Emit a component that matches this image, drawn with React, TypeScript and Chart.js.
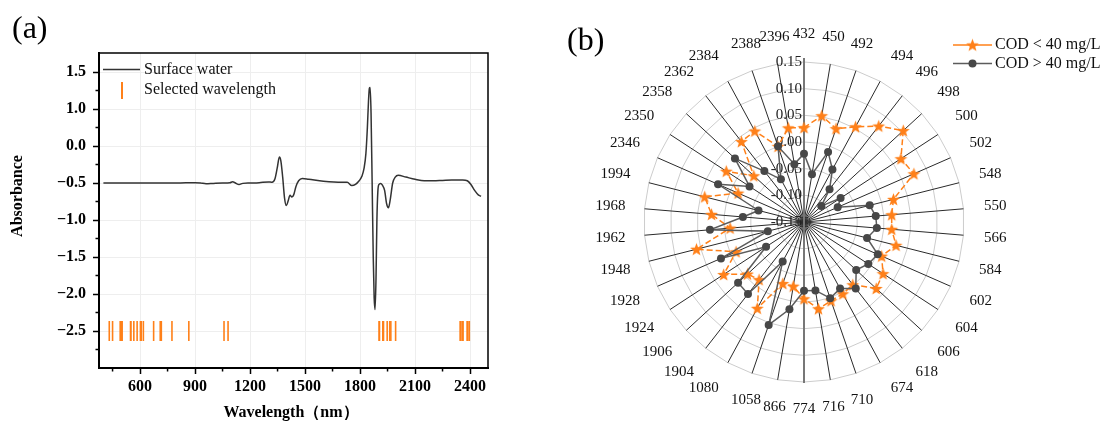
import React, { useEffect, useRef } from "react";
import { Chart, registerables } from "chart.js";

Chart.register(...registerables);

// ---------- Panel (a): spectrum ----------
const wavelengths = [
  400, 500, 600, 700, 800, 900, 930, 960, 1000, 1050,
  1090, 1105, 1120, 1140, 1160, 1200, 1250, 1300, 1320, 1335,
  1348, 1360, 1368, 1378, 1388, 1398, 1408, 1418, 1428, 1438,
  1450, 1465, 1485, 1520, 1600, 1700, 1730, 1755, 1775, 1795,
  1810, 1822, 1832, 1840, 1846, 1851, 1855, 1860, 1866, 1872,
  1877, 1882, 1887, 1892, 1897, 1903, 1912, 1922, 1934, 1945,
  1955, 1965, 1978, 1992, 2008, 2050, 2100, 2150, 2200, 2250,
  2300, 2360, 2385, 2405, 2425, 2445, 2460,
];
const absorbance = [
  -0.5, -0.5, -0.5, -0.5, -0.5, -0.495, -0.5, -0.51, -0.505, -0.5,
  -0.497, -0.482, -0.5, -0.52, -0.505, -0.5, -0.495, -0.485, -0.49, -0.45,
  -0.3, -0.15, -0.2, -0.42, -0.7, -0.805, -0.74, -0.665, -0.69, -0.66,
  -0.55, -0.47, -0.44, -0.45, -0.475, -0.49, -0.49, -0.535, -0.52, -0.47,
  -0.41, -0.3, -0.1, 0.25, 0.6, 0.78, 0.79, 0.45, -0.5, -1.5,
  -2.05, -2.21, -1.8, -1.0, -0.62, -0.52, -0.505, -0.53, -0.6, -0.78,
  -0.835, -0.72, -0.5, -0.42, -0.395, -0.42, -0.45, -0.47, -0.47, -0.465,
  -0.46, -0.46, -0.47, -0.52, -0.6, -0.66, -0.68,
];
const selectedWavelengths = [
  432, 450, 492, 494, 496, 498, 500, 502, 548, 550,
  566, 584, 602, 604, 606, 618, 674, 710, 716, 774,
  866, 1058, 1080, 1904, 1906, 1924, 1928, 1948, 1962, 1968,
  1994, 2346, 2350, 2358, 2362, 2384, 2388, 2396,
];
const markerLevel = -2.5;
const xTickValues = [600, 900, 1200, 1500, 1800, 2100, 2400];
const xMinorTicks = [450, 750, 1050, 1350, 1650, 1950, 2250];
const yTickPositions = [-2.5, -2.0, -1.5, -1.0, -0.5, 0, 0.5, 1.0];
const yTickLabels = ["−2.5", "−2.0", "−1.5", "−1.0", "−0.5", "0.0", "1.0", "1.5"];
const yMinorTicks = [-2.75, -2.25, -1.75, -1.25, -0.75, -0.25, 0.25, 0.75];

// ---------- Panel (b): radar ----------
const codBelow40 = [
  0.027, 0.052, 0.035, 0.053, 0.078, 0.103, 0.067, 0.075, 0.023, 0.015,
  0.015, 0.028, 0.009, 0.027, 0.034, -0.001, 0.003, 0.006, 0.015, -0.006,
  -0.028, -0.028, 0.034, -0.013, -0.006, 0.030, -0.011, 0.058, -0.011, 0.024,
  0.042, -0.015, 0.024, -0.022, 0.041, 0.044, 0.000, 0.029,
];
const codAbove40 = [
  -0.022, -0.059, -0.011, -0.038, -0.072, -0.106, -0.068, -0.081, -0.023, -0.015,
  -0.013, -0.028, 0.001, -0.006, -0.017, 0.008, -0.008, 0.001, -0.020, -0.021,
  0.016, 0.054, -0.066, 0.021, 0.018, -0.065, 0.020, -0.080, 0.027, -0.035,
  -0.062, 0.026, -0.028, 0.026, -0.029, -0.059, 0.000, -0.040,
];
const radialTicks = [-0.15, -0.1, -0.05, 0, 0.05, 0.1, 0.15];
const radialTickLabels = ["-0.15", "-0.10", "-0.05", "0.00", "0.05", "0.10", "0.15"];

const SERIF = "'Liberation Serif', 'Times New Roman', serif";
const ORANGE = "#ff8019";
const DARK = "#333333";
const GREY_LINE = "#5c5c5c";
const GREY_DOT = "#474747";

function makeStar(color: string) {
  const size = 15;
  const c = document.createElement("canvas");
  c.width = size;
  c.height = size;
  const ctx = c.getContext("2d")!;
  ctx.beginPath();
  for (let k = 0; k < 10; k++) {
    const r = k % 2 === 0 ? 6.8 : 2.8;
    const ang = -Math.PI / 2 + (k * Math.PI) / 5;
    const x = size / 2 + r * Math.cos(ang);
    const y = size / 2 + 0.6 + r * Math.sin(ang);
    if (k === 0) ctx.moveTo(x, y);
    else ctx.lineTo(x, y);
  }
  ctx.closePath();
  ctx.fillStyle = color;
  ctx.fill();
  return c;
}

const spectrumDecor = {
  id: "spectrumDecor",
  afterDraw(chart: any) {
    const { ctx, chartArea } = chart;
    const xs = chart.scales.x;
    const ys = chart.scales.y;
    ctx.save();
    // top & right frame
    ctx.strokeStyle = "#000";
    ctx.lineWidth = 1.5;
    ctx.beginPath();
    ctx.moveTo(chartArea.left, chartArea.top);
    ctx.lineTo(chartArea.right, chartArea.top);
    ctx.lineTo(chartArea.right, chartArea.bottom);
    ctx.stroke();
    // minor ticks
    ctx.lineWidth = 1.5;
    ctx.beginPath();
    xMinorTicks.forEach((v) => {
      const x = xs.getPixelForValue(v);
      ctx.moveTo(x, chartArea.bottom);
      ctx.lineTo(x, chartArea.bottom + 3.5);
    });
    yMinorTicks.forEach((v) => {
      const y = ys.getPixelForValue(v);
      ctx.moveTo(chartArea.left, y);
      ctx.lineTo(chartArea.left - 3.5, y);
    });
    ctx.stroke();

    // legend
    ctx.strokeStyle = DARK;
    ctx.lineWidth = 1.5;
    ctx.beginPath();
    ctx.moveTo(103, 69.5);
    ctx.lineTo(140, 69.5);
    ctx.stroke();
    ctx.strokeStyle = ORANGE;
    ctx.lineWidth = 2;
    ctx.beginPath();
    ctx.moveTo(122, 82);
    ctx.lineTo(122, 99);
    ctx.stroke();
    ctx.fillStyle = "#111";
    ctx.font = `16px ${SERIF}`;
    ctx.textAlign = "left";
    ctx.textBaseline = "middle";
    ctx.fillText("Surface water", 144, 70);
    ctx.fillText("Selected wavelength", 144, 90);

    // axis titles
    ctx.font = `bold 16px ${SERIF}`;
    ctx.textAlign = "center";
    ctx.fillStyle = "#000";
    ctx.fillText("Wavelength（nm）", 291, 413);
    ctx.save();
    ctx.translate(18, 196);
    ctx.rotate(-Math.PI / 2);
    ctx.fillText("Absorbance", 0, 0);
    ctx.restore();

    // panel tag
    ctx.font = `32px ${SERIF}`;
    ctx.textAlign = "left";
    ctx.fillText("(a)", 12, 30);
    ctx.restore();
  },
};

const radarDecor = {
  id: "radarDecor",
  beforeDatasetsDraw(chart: any) {
    const { ctx } = chart;
    const s = chart.scales.r;
    ctx.save();
    ctx.strokeStyle = "#777";
    ctx.lineWidth = 2;
    ctx.beginPath();
    ctx.moveTo(s.xCenter, s.yCenter - s.drawingArea - 4);
    ctx.lineTo(s.xCenter, s.yCenter + s.drawingArea + 1);
    ctx.stroke();
    ctx.font = `15px ${SERIF}`;
    ctx.fillStyle = "#222";
    ctx.textAlign = "right";
    ctx.textBaseline = "middle";
    radialTicks.forEach((v, i) => {
      const r = s.getDistanceFromCenterForValue(v);
      ctx.fillText(radialTickLabels[i], s.xCenter - 2, s.yCenter - r);
    });
    ctx.restore();
  },
  afterDraw(chart: any) {
    const { ctx } = chart;
    const s = chart.scales.r;
    const labels: string[] = chart.data.labels;
    const N = labels.length;
    ctx.save();
    ctx.font = `15px ${SERIF}`;
    ctx.fillStyle = "#111";
    ctx.textBaseline = "middle";
    const pad = 19;
    labels.forEach((lab, i) => {
      const a = (i * 2 * Math.PI) / N;
      const sa = Math.sin(a);
      const ca = Math.cos(a);
      const d = s.drawingArea + pad;
      let x = s.xCenter + d * sa;
      const y = s.yCenter - d * ca - Math.sign(ca) * Math.min(1, 2 * Math.abs(ca)) * 8.5;
      if (Math.abs(sa) < 0.4) {
        ctx.textAlign = "center";
      } else if (sa > 0) {
        ctx.textAlign = "left";
        x += 1.5;
      } else {
        ctx.textAlign = "right";
      }
      ctx.fillText(lab, x, y);
    });

    // legend
    const lx0 = 393;
    const lx1 = 432;
    const lxm = (lx0 + lx1) / 2;
    ctx.lineWidth = 1.5;
    ctx.strokeStyle = ORANGE;
    ctx.beginPath();
    ctx.moveTo(lx0, 45);
    ctx.lineTo(lx1, 45);
    ctx.stroke();
    const star = chart.data.datasets[0].pointStyle;
    ctx.drawImage(star, lxm - star.width / 2, 45 - star.height / 2);
    ctx.strokeStyle = GREY_LINE;
    ctx.beginPath();
    ctx.moveTo(lx0, 63.5);
    ctx.lineTo(lx1, 63.5);
    ctx.stroke();
    ctx.fillStyle = GREY_DOT;
    ctx.beginPath();
    ctx.arc(lxm, 63.5, 4, 0, Math.PI * 2);
    ctx.fill();
    ctx.fillStyle = "#111";
    ctx.font = `16px ${SERIF}`;
    ctx.textAlign = "left";
    ctx.fillText(chart.data.datasets[0].label, 435, 45);
    ctx.fillText(chart.data.datasets[1].label, 435, 63.5);

    ctx.font = `32px ${SERIF}`;
    ctx.fillStyle = "#000";
    ctx.fillText("(b)", 7, 42);
    ctx.restore();
  },
};

export default function App() {
  const refA = useRef<HTMLCanvasElement>(null);
  const refB = useRef<HTMLCanvasElement>(null);

  useEffect(() => {
    const tickFont = { family: SERIF, size: 16, weight: "bold" as const };
    const chartA = new Chart(refA.current!, {
      type: "line",
      data: {
        datasets: [
          {
            label: "Surface water",
            data: wavelengths.map((w, i) => ({ x: w, y: absorbance[i] })),
            borderColor: DARK,
            borderWidth: 1.5,
            pointRadius: 0,
            cubicInterpolationMode: "monotone",
            fill: false,
          },
          {
            label: "Selected wavelength",
            data: selectedWavelengths.map((w) => ({ x: w, y: markerLevel })),
            showLine: false,
            pointStyle: "line",
            pointRotation: 90,
            pointRadius: 10,
            pointBorderWidth: 1.6,
            pointBorderColor: ORANGE,
            pointBackgroundColor: ORANGE,
          },
        ],
      },
      options: {
        responsive: false,
        animation: false,
        devicePixelRatio: 1,
        layout: { padding: { left: 0, right: 72, top: 53, bottom: 0 } },
        plugins: { legend: { display: false }, tooltip: { enabled: false } },
        scales: {
          x: {
            type: "linear",
            min: 376,
            max: 2498,
            afterBuildTicks: (s: any) => {
              s.ticks = xTickValues.map((v) => ({ value: v }));
            },
            afterFit: (s: any) => {
              s.height = 55;
            },
            grid: { color: "#eeeeee", tickColor: "#000", tickLength: 6, tickWidth: 1.5, lineWidth: 1 },
            border: { color: "#000", width: 2 },
            ticks: {
              font: tickFont,
              color: "#000",
              padding: 3,
              maxRotation: 0,
              autoSkip: false,
              callback: (v: any) => String(v),
            },
          },
          y: {
            type: "linear",
            min: -3.0,
            max: 1.257,
            afterBuildTicks: (s: any) => {
              s.ticks = yTickPositions.map((v) => ({ value: v }));
            },
            afterFit: (s: any) => {
              s.width = 99;
            },
            grid: { color: "#eeeeee", tickColor: "#000", tickLength: 6, tickWidth: 1.5, lineWidth: 1 },
            border: { color: "#000", width: 2 },
            ticks: {
              font: tickFont,
              color: "#000",
              padding: 7,
              autoSkip: false,
              callback: (v: any) => yTickLabels[yTickPositions.indexOf(v)] ?? "",
            },
          },
        },
      },
      plugins: [spectrumDecor],
    } as any);

    const star = makeStar(ORANGE);
    const chartB = new Chart(refB.current!, {
      type: "radar",
      data: {
        labels: selectedWavelengths.map(String),
        datasets: [
          {
            label: "COD < 40 mg/L",
            data: codBelow40,
            borderColor: ORANGE,
            borderWidth: 1.5,
            borderDash: [6, 3],
            pointStyle: star,
            fill: false,
            order: 2,
          },
          {
            label: "COD > 40 mg/L",
            data: codAbove40,
            borderColor: GREY_LINE,
            borderWidth: 1.5,
            pointStyle: "circle",
            pointRadius: 4,
            pointBorderWidth: 0,
            pointBackgroundColor: GREY_DOT,
            pointBorderColor: GREY_DOT,
            fill: false,
            order: 1,
          },
        ],
      },
      options: {
        responsive: false,
        animation: false,
        devicePixelRatio: 1,
        layout: { padding: { left: 84, top: 62, right: 138, bottom: 41 } },
        plugins: { legend: { display: false }, tooltip: { enabled: false } },
        scales: {
          r: {
            min: -0.15,
            max: 0.15,
            afterBuildTicks: (s: any) => {
              s.ticks = radialTicks.map((v) => ({ value: v }));
            },
            ticks: { display: false },
            pointLabels: { display: false },
            grid: { color: "#cccccc", lineWidth: 1 },
            angleLines: { color: "#2a2a2a", lineWidth: 1 },
          },
        },
      },
      plugins: [radarDecor],
    } as any);

    return () => {
      chartA.destroy();
      chartB.destroy();
    };
  }, []);

  return (
    <div style={{ position: "absolute", left: 0, top: 0, width: 1102, height: 423, background: "#fff", overflow: "hidden" }}>
      <canvas ref={refA} width={560} height={423} style={{ position: "absolute", left: 0, top: 0, width: 560, height: 423 }} />
      <canvas ref={refB} width={542} height={423} style={{ position: "absolute", left: 560, top: 0, width: 542, height: 423 }} />
    </div>
  );
}
